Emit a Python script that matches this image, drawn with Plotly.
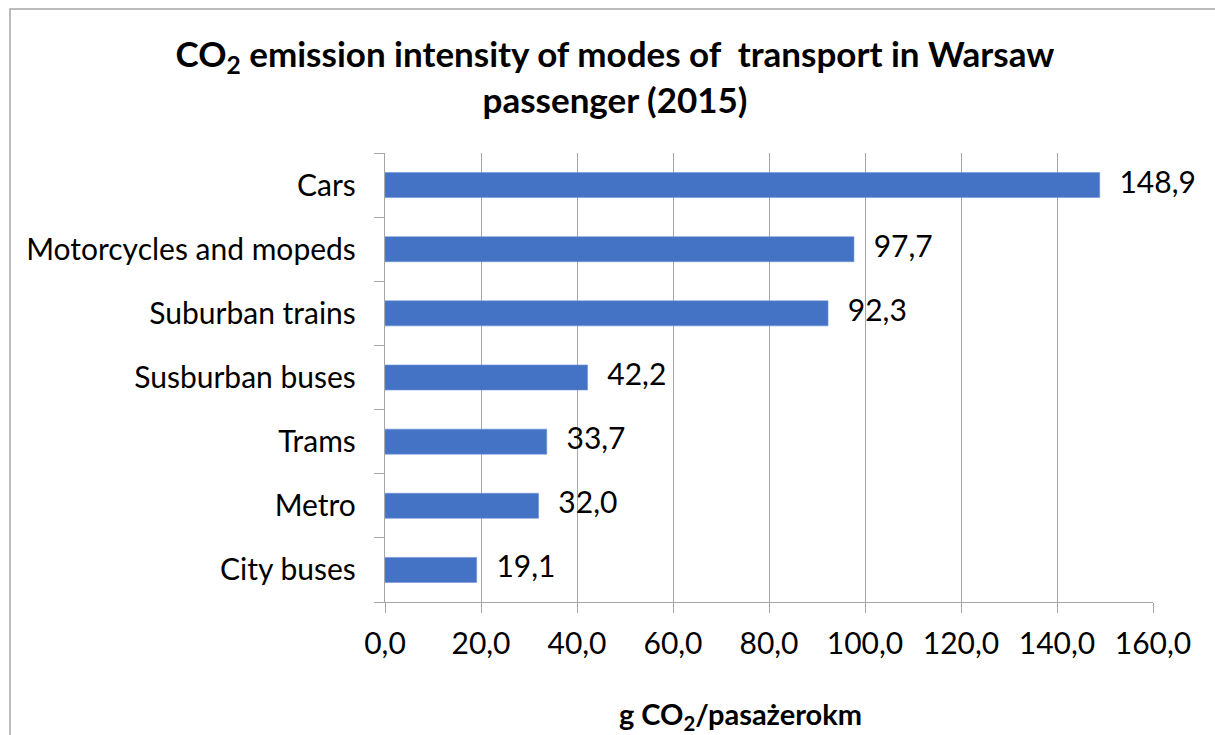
import plotly.graph_objects as go

# Data (bottom-to-top order as drawn)
modes = ["City buses", "Metro", "Trams", "Susburban buses",
         "Suburban trains", "Motorcycles and mopeds", "Cars"]
intensity = [19.1, 32.0, 33.7, 42.2, 92.3, 97.7, 148.9]
x_ticks = [0, 20, 40, 60, 80, 100, 120, 140, 160]

BAR_COLOR = "#4472C4"
GRID = "#a6a6a6"
FONT = "Lato, 'Open Sans', sans-serif"
LBL = 30

W, H = 1215, 735
L, R, T, B = 385, 62, 153, 133
pw, ph = W - L - R, H - T - B

fig = go.Figure()
fig.add_trace(go.Bar(
    x=intensity, y=modes, orientation="h",
    marker=dict(color=BAR_COLOR, line=dict(color="#6f93d6", width=0.6)),
    width=0.39, hoverinfo="skip",
))
# value labels to the right of each bar
fig.add_trace(go.Scatter(
    x=intensity, y=modes, mode="markers+text",
    marker=dict(size=30, opacity=0),
    texttemplate="%{x:.1f}", textposition="middle right",
    textfont=dict(size=LBL, color="black", family=FONT),
    cliponaxis=False, hoverinfo="skip",
))

fig.update_layout(
    width=W, height=H, separators=",.",
    margin=dict(l=L, r=R, t=T, b=B),
    paper_bgcolor="white", plot_bgcolor="white",
    font=dict(family=FONT, color="black"),
    showlegend=False,
    title=dict(
        text="CO<sub>2</sub> emission intensity of modes of  transport in Warsaw<br>passenger (2015)",
        font=dict(size=35, family=FONT, color="black", weight="bold"),
        x=615 / W, xanchor="center", xref="container",
        y=1 - 67 / H, yanchor="middle", yref="container",
    ),
    xaxis=dict(
        range=[0, 160], tickvals=x_ticks, tickformat=".1f",
        showgrid=True, gridcolor=GRID, gridwidth=1.3,
        showline=True, linecolor=GRID, linewidth=1.3,
        ticks="outside", ticklen=10, tickcolor=GRID, tickwidth=1.3,
        ticklabelstandoff=5,
        tickfont=dict(size=LBL, family=FONT, color="black"),
        zeroline=False, fixedrange=True,
    ),
    yaxis=dict(
        range=[-0.5, len(modes) - 0.5],
        showline=True, linecolor=GRID, linewidth=1.3,
        ticks="outside", tickson="boundaries", ticklen=10,
        tickcolor=GRID, tickwidth=1.3, ticklabelstandoff=22,
        tickfont=dict(size=LBL, family=FONT, color="black"),
        showgrid=False, fixedrange=True,
    ),
    annotations=[dict(
        text="<b>g CO<sub>2</sub>/pasażerokm</b>",
        xref="paper", yref="paper",
        x=(740 - L) / pw, y=-(715 - (H - B)) / ph,
        xanchor="center", yanchor="middle", showarrow=False,
        font=dict(size=29, family=FONT, color="black"),
    )],
    shapes=[dict(
        type="rect", xref="paper", yref="paper",
        x0=(10 - L) / pw, x1=(1240 - L) / pw,
        y0=-(760 - (H - B)) / ph, y1=((H - B) - 9) / ph,
        line=dict(color="#a6a6a6", width=1.5), layer="below",
    )],
)

fig.write_html("out.html", config={"displayModeBar": False},
               post_script="document.body.style.margin='0';")
